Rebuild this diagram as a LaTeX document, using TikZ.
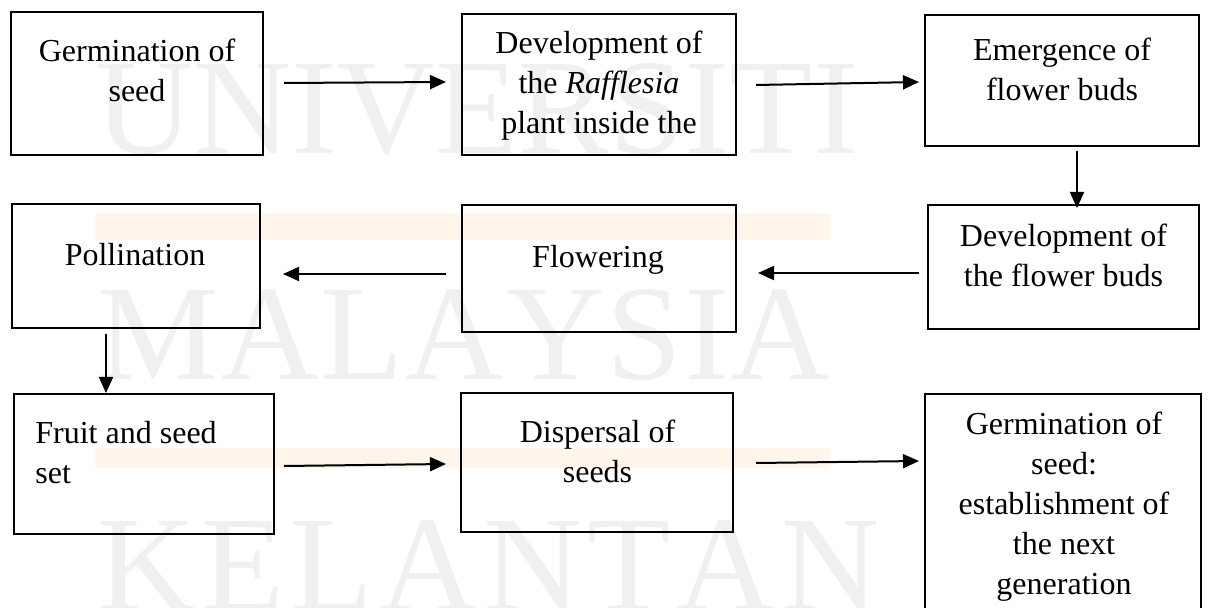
\documentclass[tikz,border=0pt]{standalone}
\usepackage{fontspec}
\setmainfont{Liberation Serif}
\usetikzlibrary{arrows.meta,calc}
\definecolor{wmgray}{RGB}{240,240,240}
\definecolor{wmorange}{RGB}{255,245,234}
\tikzset{
  box/.style={draw, line width=1pt, inner sep=0pt},
  lbl/.style={inner sep=0pt, align=center, font=\fontsize{16}{20}\selectfont},
  lbll/.style={inner sep=0pt, align=left, font=\fontsize{16}{20}\selectfont},
  arr/.style={line width=1pt, -{Triangle[length=8pt,width=7pt]}},
  wm/.style={inner sep=0pt, text=wmgray, font=\fontsize{68}{68}\selectfont},
  wmbar/.style={fill=wmorange, draw=none}
}
\begin{document}
\begin{tikzpicture}[x=0.5pt,y=-0.5pt]
\useasboundingbox (0,0) rectangle (1208,608);
\clip (0,0) rectangle (1208,608);
% watermark
\fill[wmbar] (95,213) rectangle (830,240);
\fill[wmbar] (95,448) rectangle (830,468);
\node[wm, anchor=base west] (wm1) at (95,154) {\makebox[367.5pt][s]{U\hfill N\hfill I\hfill V\hfill E\hfill R\hfill S\hfill I\hfill T\hfill I}};
\node[wm, anchor=base west] (wm2) at (97,380) {\makebox[366.5pt][s]{M\hfill A\hfill L\hfill A\hfill Y\hfill S\hfill I\hfill A}};
\node[wm, anchor=base west] (wm3) at (97,610) {\makebox[391pt][s]{K\hfill E\hfill L\hfill A\hfill N\hfill T\hfill A\hfill N}};
% boxes
\node[box, minimum width=126pt, minimum height=71.5pt] (b1) at (137,83.5) {};
\node[box, minimum width=137pt, minimum height=70.5pt] (b2) at (599,84.5) {};
\node[box, minimum width=137pt, minimum height=65.5pt] (b3) at (1062,80.5) {};
\node[box, minimum width=124pt, minimum height=62pt] (b4) at (136,266) {};
\node[box, minimum width=137pt, minimum height=63.5pt] (b5) at (599,268.5) {};
\node[box, minimum width=135.5pt, minimum height=62pt] (b6) at (1063.5,267) {};
\node[box, minimum width=130pt, minimum height=70pt] (b7) at (144,464) {};
\node[box, minimum width=136pt, minimum height=69.5pt] (b8) at (597,462.5) {};
\node[box, minimum width=138pt, minimum height=123pt] (b9) at (1063,517) {};
% texts (anchor = baseline of last line)
\node[lbl, anchor=base] (t1) at (137,102) {Germination of\\seed};
\node[lbl, anchor=base] (t2) at (599,134) {Development of\\the \textit{Rafflesia}\\plant inside the};
\node[lbl, anchor=base] (t3) at (1062,101) {Emergence of\\flower buds};
\node[lbl, anchor=base] (t4) at (135,266) {Pollination};
\node[lbl, anchor=base] (t5) at (598,268) {Flowering};
\node[lbl, anchor=base] (t6) at (1063.5,287) {Development of\\the flower buds};
\node[lbll, anchor=base west] (t7) at (35,483) {Fruit and seed\\set};
\node[lbl, anchor=base] (t8) at (597.5,482) {Dispersal of\\seeds};
\node[lbl, anchor=base] (t9) at (1064,594) {Germination of\\seed:\\establishment of\\the next\\generation};
% arrows
\draw[arr] ($(b1.east)+(20,-0.5)$) -- ($(b2.west)+(-15,-2.5)$);
\draw[arr] ($(b2.east)+(19,0.5)$) -- ($(b3.west)+(-5,1.5)$);
\draw[arr] ($(b3.south)+(15,4)$) -- ($(b6.north)+(13.5,4)$);
\draw[arr] ($(b6.west)+(-8,6)$) -- ($(b5.east)+(21,4.5)$);
\draw[arr] ($(b5.west)+(-15,5.5)$) -- ($(b4.east)+(22,8)$);
\draw[arr] ($(b4.south)+(-30,5)$) -- ($(b4.south |- b7.north)+(-30,0)$);
\draw[arr] ($(b7.east)+(9,2)$) -- ($(b8.west)+(-14,1.5)$);
\draw[arr] ($(b8.east)+(22,0.5)$) -- ($(b8.east -| b9.west)+(-5,-1.5)$);
\end{tikzpicture}
\end{document}
